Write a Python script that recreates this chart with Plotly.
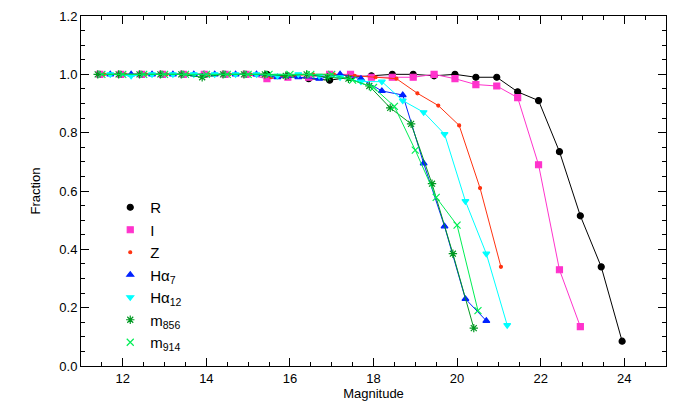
import plotly.graph_objects as go

# magnitude grids (0.5 mag bins)
mag_r = [11.45 + 0.5 * k for k in range(26)]
frac_r = [1.0, 1.0, 1.0, 1.0, 1.0, 1.0, 1.0, 1.0, 1.0, 0.995, 0.985, 0.98, 0.99, 0.995,
          1.0, 1.0, 0.995, 1.0, 0.99, 0.99, 0.94, 0.91, 0.735, 0.515, 0.34, 0.085]

mag_i = [11.45 + 0.5 * k for k in range(24)]
frac_i = [1.0, 1.0, 1.0, 1.0, 1.0, 1.0, 1.0, 1.0, 0.985, 0.99, 0.99, 1.0, 1.0, 0.99,
          0.99, 0.99, 1.0, 0.985, 0.965, 0.96, 0.92, 0.69, 0.33, 0.135]

mag_z = [11.55 + 0.5 * k for k in range(20)]
frac_z = [1.0, 1.0, 1.0, 1.0, 1.0, 1.0, 1.0, 1.0, 0.99, 0.995, 1.0, 1.0, 0.995, 0.99,
          0.985, 0.935, 0.893, 0.825, 0.61, 0.34]

mag_ha7 = [11.7 + 0.5 * k for k in range(19)]
frac_ha7 = [1.0, 1.0, 1.0, 1.0, 1.0, 1.0, 1.0, 1.0, 0.99, 0.99, 0.985, 1.0, 0.985,
            0.943, 0.929, 0.695, 0.479, 0.23, 0.155]

mag_ha12 = [11.7 + 0.5 * k for k in range(20)]
frac_ha12 = [1.0, 0.995, 1.0, 1.0, 1.0, 1.0, 1.0, 1.0, 0.995, 1.0, 0.995, 0.99, 0.975,
             0.975, 0.91, 0.87, 0.795, 0.565, 0.385, 0.14]

mag_m856 = [11.4 + 0.5 * k for k in range(19)]
frac_m856 = [1.0, 1.0, 1.0, 1.0, 1.0, 0.99, 1.0, 1.0, 1.0, 0.995, 1.0, 0.99, 0.985,
             0.96, 0.885, 0.83, 0.625, 0.385, 0.13]

mag_m914 = [11.5 + 0.5 * k for k in range(19)]
frac_m914 = [1.0, 1.0, 1.0, 1.0, 1.0, 1.0, 1.0, 1.0, 1.0, 1.0, 1.0, 1.0, 0.98, 0.955,
             0.89, 0.74, 0.578, 0.483, 0.19]

series = [
    ("R", mag_r, frac_r, "#000000", "circle", 6),
    ("I", mag_i, frac_i, "#ff33cc", "square", 6),
    ("Z", mag_z, frac_z, "#ff3311", "circle", 3),
    ("H\u03b1<sub>7</sub>", mag_ha7, frac_ha7, "#0022ff", "triangle-up", 6),
    ("H\u03b1<sub>12</sub>", mag_ha12, frac_ha12, "#00ffff", "triangle-down", 6),
    ("m<sub>856</sub>", mag_m856, frac_m856, "#009922", "asterisk-open", 7),
    ("m<sub>914</sub>", mag_m914, frac_m914, "#00ee55", "x-thin-open", 7),
]

fig = go.Figure()
for name, x, y, col, sym, sz in series:
    mk = dict(symbol=sym, size=sz, color=col, line=dict(color=col, width=1.2))
    fig.add_trace(go.Scatter(x=x, y=y, mode="lines+markers", showlegend=False,
                             line=dict(color=col, width=1), marker=mk))
    # marker-only legend entry
    fig.add_trace(go.Scatter(x=[None], y=[None], name=name, mode="markers", marker=mk))

axis = dict(showline=True, linecolor="black", linewidth=1, mirror="ticks", automargin=False,
            ticks="inside", ticklen=8, tickcolor="black", showgrid=False, zeroline=False,
            title_font=dict(size=13), tickfont=dict(size=13))
fig.update_xaxes(range=[11, 25], dtick=2, title_text="Magnitude", title_standoff=2,
                 minor=dict(dtick=0.5, ticks="inside", ticklen=4, tickcolor="black"), **axis)
fig.update_yaxes(range=[0, 1.2], dtick=0.2, tickformat=".1f", title_text="Fraction",
                 minor=dict(dtick=0.05, ticks="inside", ticklen=4, tickcolor="black"), **axis)

fig.update_layout(
    width=681, height=412, plot_bgcolor="white", paper_bgcolor="white",
    margin=dict(l=73, r=23, t=8, b=54),
    font=dict(family="Liberation Sans", color="black"),
    legend=dict(x=0.05, y=0.5, xanchor="left", yanchor="top", bgcolor="rgba(0,0,0,0)",
                font=dict(size=15), itemwidth=30, tracegroupgap=0),
)

fig.write_html("out.html")
